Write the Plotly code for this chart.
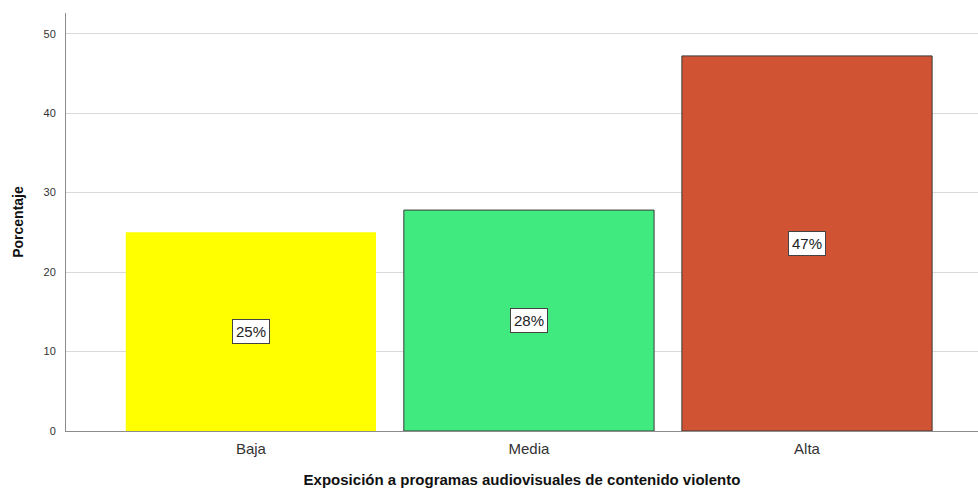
import plotly.graph_objects as go

CATEGORIES = ['Baja', 'Media', 'Alta']
PERCENT = [25.0, 27.8, 47.2]
LABELS = ['25%', '28%', '47%']
Y_TICKS = [0, 10, 20, 30, 40, 50]

COLORS = {
    'bars': ['#FFFF00', '#40EA7E', '#D05433'],
    'outline': ['rgba(0,0,0,0)', '#3a3a3a', '#3a3a3a'],
    'grid': '#D9D9D9',
    'axis': '#8C8C8C',
    'text': '#222222',
}

fig = go.Figure()
fig.add_trace(go.Bar(
    x=CATEGORIES,
    y=PERCENT,
    width=0.9,
    marker=dict(color=COLORS['bars'],
                line=dict(color=COLORS['outline'], width=1)),
    showlegend=False,
    hoverinfo='skip',
))

for cat, val, lab in zip(CATEGORIES, PERCENT, LABELS):
    fig.add_annotation(
        x=cat, y=val / 2, text=lab, showarrow=False,
        font=dict(family='Arial, Liberation Sans', size=15, color=COLORS['text']),
        bgcolor='white', bordercolor='#444444', borderwidth=1, borderpad=3,
    )

fig.update_layout(
    width=978, height=488,
    margin=dict(l=66, r=0, t=13, b=57),
    plot_bgcolor='white', paper_bgcolor='white',
    font=dict(family='Arial, Liberation Sans', color=COLORS['text']),
    xaxis=dict(
        range=[-0.665, 2.615],
        showline=True, linecolor=COLORS['axis'], linewidth=1,
        ticks='', tickfont=dict(size=15, color='#333333'),
        ticklabelstandoff=4,
        title=dict(text='<b>Exposición a programas audiovisuales de contenido violento</b>',
                   font=dict(size=15, color='#111111'), standoff=20),
    ),
    yaxis=dict(
        range=[0, 52.6], tickvals=Y_TICKS,
        showline=True, linecolor=COLORS['axis'], linewidth=1,
        showgrid=True, gridcolor=COLORS['grid'], gridwidth=1,
        zeroline=False,
        ticks='', ticklabelstandoff=7,
        tickfont=dict(size=11, color='#333333'),
        title=dict(text='<b>Porcentaje</b>', font=dict(size=14, color='#111111'), standoff=16),
    ),
)

fig.write_html("out.html", config={'displayModeBar': False},
               post_script="document.body.style.margin='0';")
